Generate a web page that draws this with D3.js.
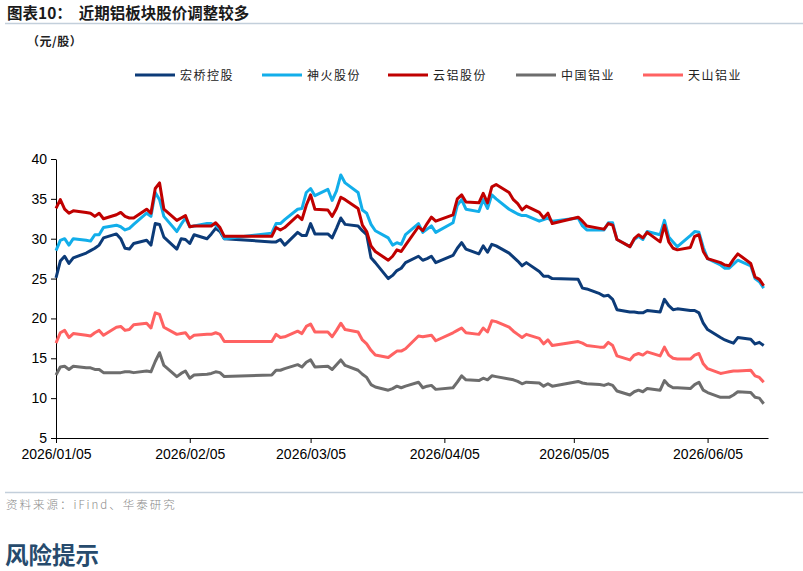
<!DOCTYPE html>
<html>
<head>
<meta charset="utf-8">
<script src="https://cdn.jsdelivr.net/npm/d3@7"></script>
<style>
  body { margin: 0; background: #fff; }
  svg { display: block; }
  .cjk { font-family: "Noto Sans CJK SC", sans-serif; }
  .axis text { font-family: "Liberation Sans", Arial, sans-serif; font-size: 14px; fill: #000; }
  .axis path, .axis line { stroke: #000; }
</style>
</head>
<body>
<div id="chart"></div>
<script>
// trading days: weekdays 2026/01/05 - 2026/06/18 minus exchange holidays
const startDay = "2026-01-05";
const endDay = "2026-06-18";
const holidays = ["2026-02-16", "2026-02-17", "2026-02-18", "2026-02-19", "2026-02-20",
  "2026-02-23", "2026-04-06", "2026-05-01", "2026-05-04", "2026-05-05"];

const seriesNames = ["宏桥控股", "神火股份", "云铝股份", "中国铝业", "天山铝业"];
const seriesColors = ["#0c3b78", "#12aeea", "#c00000", "#6d6d6d", "#ff6262"];

const hongqiao = [
  25.1, 27.2, 27.8, 26.9, 27.6, 28.2, 28.5, 28.8, 29.2, 30.1, 30.6, 30.0, 28.8, 28.7, 29.4, 29.8, 29.2, 31.9, 31.8, 30.2,
  28.7, 30.0, 29.9, 29.4, 30.5, 30.0, 30.6, 31.3, 30.9, 30.0, 29.6, 29.6, 29.9, 29.2,
  30.8, 30.4, 30.4, 31.9, 30.6, 30.6, 30.1, 31.3, 32.6, 31.8, 31.6, 31.0, 30.5, 27.6, 27.0, 25.0, 25.4, 26.0, 26.3, 27.0, 27.8, 27.3,
  27.5, 27.8, 27.0, 27.9, 28.8, 29.5, 28.7, 28.1, 29.1, 28.3, 29.3, 29.1, 28.2, 27.7, 27.2, 26.6, 27.0, 25.9, 25.3, 25.3, 25.0,
  24.9, 23.8, 23.7, 23.1, 22.8, 22.9, 22.4, 21.1, 20.8, 20.8, 20.7, 20.7, 21.0, 20.8, 22.4, 21.6, 21.1, 21.2,
  21.0, 21.0, 20.7, 19.4, 18.6, 17.6, 17.3, 17.1, 16.9, 17.6, 17.4, 16.8, 17.0, 16.6
];
const shenhuo = [
  28.5, 29.8, 30.0, 29.2, 30.0, 29.8, 29.7, 30.5, 30.5, 31.4, 31.7, 31.5, 31.1, 31.3, 31.8, 33.2, 32.8, 35.8, 34.9, 32.8,
  30.9, 31.8, 32.6, 31.5, 31.6, 31.9, 31.9, 31.7, 31.2, 30.0, 30.7, 31.9, 31.9, 32.4,
  33.7, 33.8, 35.8, 36.3, 35.4, 36.2, 34.8, 36.0, 38.0, 37.0, 35.8, 33.6, 33.2, 31.8, 31.0, 30.1, 29.2, 29.5, 29.3, 30.5, 31.9, 30.8,
  31.2, 31.6, 30.8, 32.0, 34.2, 34.9, 33.7, 33.4, 34.9, 33.8, 35.5, 35.0, 33.7, 33.4, 33.1, 32.9, 32.9, 32.2, 32.4, 32.6, 32.2,
  32.6, 31.6, 31.1, 31.1, 31.1, 32.0, 32.0, 29.9, 29.0, 29.9, 30.3, 29.9, 30.9, 30.5, 32.3, 30.2, 29.6, 29.0,
  30.4, 30.9, 30.8, 28.9, 27.5, 26.7, 26.3, 26.3, 26.8, 27.3, 26.6, 25.0, 24.6, 23.8
];
const yunlv = [
  33.8, 34.9, 33.7, 33.2, 33.5, 33.3, 33.2, 32.8, 33.2, 32.5, 33.0, 33.3, 32.8, 32.6, 32.6, 33.7, 33.2, 36.3, 37.0, 33.7,
  32.3, 32.6, 32.9, 31.5, 31.6, 31.6, 31.6, 32.0, 31.4, 30.3, 30.3, 31.4, 31.1, 31.4,
  32.9, 32.4, 34.2, 35.5, 33.7, 33.6, 32.8, 33.8, 35.2, 34.9, 33.8, 31.7, 30.9, 29.1, 28.4, 27.3, 27.8, 28.6, 28.4, 29.2, 31.5, 31.0,
  31.9, 32.7, 32.2, 33.0, 35.0, 35.5, 34.6, 34.5, 35.7, 34.5, 36.5, 36.8, 35.8, 34.9, 34.4, 33.6, 34.1, 33.3, 32.6, 33.2, 31.9,
  32.7, 32.2, 31.6, 31.3, 31.2, 31.9, 31.7, 29.9, 29.0, 30.0, 30.5, 30.1, 30.8, 29.6, 31.7, 29.6, 28.8, 28.6,
  28.9, 30.3, 30.5, 28.4, 27.5, 27.0, 26.7, 26.6, 27.4, 28.1, 26.9, 25.2, 24.9, 24.1
];
const zhonglv = [
  12.9, 13.9, 14.0, 13.6, 14.0, 13.8, 13.8, 13.6, 13.6, 13.2, 13.2, 13.2, 13.3, 13.3, 13.2, 13.4, 13.3, 14.6, 15.7, 14.1,
  12.7, 13.1, 13.4, 12.5, 12.9, 13.0, 13.1, 13.3, 13.2, 12.7, 12.9, 13.5, 13.5, 13.7,
  14.2, 13.9, 14.5, 14.8, 13.9, 14.0, 13.6, 14.2, 14.8, 14.1, 13.5, 13.0, 12.6, 11.7, 11.4, 11.0, 11.2, 11.5, 11.3, 11.5, 12.0, 11.3,
  11.5, 11.6, 11.1, 11.3, 12.0, 12.8, 12.3, 12.2, 12.5, 12.3, 12.8, 12.7, 12.4, 12.3, 12.1, 11.8, 12.0, 11.9, 11.5, 11.8, 11.5,
  12.1, 11.9, 11.8, 11.7, 11.6, 11.8, 11.6, 10.9, 10.4, 10.8, 11.0, 10.8, 11.2, 11.0, 12.2, 11.6, 11.3, 11.3,
  11.2, 11.7, 12.0, 11.0, 10.7, 10.1, 10.1, 10.1, 10.4, 10.8, 10.7, 10.1, 10.0, 9.3
];
const tianshan = [
  16.9, 18.2, 18.5, 17.6, 18.1, 17.9, 17.8, 18.2, 18.5, 17.9, 18.9, 19.0, 18.5, 18.6, 19.2, 19.4, 18.8, 20.7, 20.5, 18.9,
  18.0, 18.1, 18.2, 17.5, 17.9, 18.0, 18.0, 18.2, 18.0, 17.1, 17.1, 18.0, 17.6, 17.7,
  18.4, 18.1, 19.0, 19.3, 18.3, 18.3, 17.7, 18.5, 19.4, 18.6, 18.3, 17.3, 16.8, 16.0, 15.4, 15.1, 15.5, 15.9, 15.9, 16.2, 17.8, 17.7,
  17.8, 17.9, 17.2, 18.2, 18.5, 18.8, 18.2, 18.0, 18.8, 18.3, 19.7, 19.6, 18.9, 18.4, 18.0, 17.6, 18.0, 17.5, 16.8, 17.3, 16.6,
  17.1, 16.9, 16.6, 16.4, 16.4, 17.0, 16.6, 15.3, 14.8, 15.4, 15.6, 15.4, 15.8, 15.3, 16.4, 15.4, 15.0, 14.9,
  14.9, 15.4, 15.6, 14.3, 13.7, 13.1, 13.2, 13.3, 13.4, 13.4, 13.5, 12.8, 12.6, 12.0
];

const yTicks = [5, 10, 15, 20, 25, 30, 35, 40];
const xTickLabels = ["2026/01/05", "2026/02/05", "2026/03/05", "2026/04/05", "2026/05/05", "2026/06/05"];

const parseDay = d3.timeParse("%Y-%m-%d");
const parseTick = d3.timeParse("%Y/%m/%d");
const fmtDay = d3.timeFormat("%Y-%m-%d");

const days = d3.timeDay.range(parseDay(startDay), d3.timeDay.offset(parseDay(endDay), 1))
  .filter(d => d.getDay() !== 0 && d.getDay() !== 6 && !holidays.includes(fmtDay(d)));

const allSeries = [hongqiao, shenhuo, yunlv, zhonglv, tianshan];

const width = 803, height = 571;
const svg = d3.select("#chart").append("svg")
  .attr("width", width)
  .attr("height", height);

// header
svg.append("text")
  .attr("class", "cjk")
  .attr("x", 7).attr("y", 19)
  .attr("font-size", 15.5).attr("font-weight", "bold").attr("fill", "#1a1a1a")
  .attr("xml:space", "preserve")
  .text("图表10：  近期铝板块股价调整较多");

svg.append("line")
  .attr("x1", 5).attr("x2", width).attr("y1", 23.5).attr("y2", 23.5)
  .attr("stroke", "#c3cfdb").attr("stroke-width", 1.5);

svg.append("text")
  .attr("class", "cjk")
  .attr("x", 27).attr("y", 46)
  .attr("font-size", 12).attr("font-weight", "bold").attr("letter-spacing", 0.5).attr("fill", "#222")
  .text("（元/股）");

// scales
const x = d3.scaleTime()
  .domain([parseDay(startDay), d3.timeDay.offset(parseDay(endDay), 1)])
  .range([56, 768]);

const y = d3.scaleLinear()
  .domain([5, 40])
  .range([438, 159]);

// axes
svg.append("g")
  .attr("class", "axis")
  .attr("transform", "translate(0,438)")
  .call(d3.axisBottom(x)
    .tickValues(xTickLabels.map(parseTick))
    .tickFormat(d3.timeFormat("%Y/%m/%d"))
    .tickSizeInner(5).tickSizeOuter(0).tickPadding(6));

svg.append("g")
  .attr("class", "axis")
  .attr("transform", "translate(56,0)")
  .call(d3.axisLeft(y)
    .tickValues(yTicks)
    .tickSizeInner(5).tickSizeOuter(0).tickPadding(4));

// lines
const line = d3.line()
  .x((d, i) => x(days[i]))
  .y(d => y(d));

svg.append("g")
  .attr("fill", "none")
  .attr("stroke-width", 3)
  .attr("stroke-linejoin", "round")
  .selectAll("path")
  .data(allSeries)
  .join("path")
    .attr("stroke", (d, i) => seriesColors[i])
    .attr("d", line);

// legend
const legendX = [135, 262, 388, 516, 643];
const legend = svg.append("g").attr("class", "cjk");
seriesNames.forEach((name, i) => {
  legend.append("line")
    .attr("x1", legendX[i]).attr("x2", legendX[i] + 40)
    .attr("y1", 75).attr("y2", 75)
    .attr("stroke", seriesColors[i]).attr("stroke-width", 3);
  legend.append("text")
    .attr("x", legendX[i] + 45).attr("y", 79.5)
    .attr("font-size", 12).attr("letter-spacing", 1.5).attr("fill", "#222")
    .text(name);
});

// footer
svg.append("line")
  .attr("x1", 5).attr("x2", width).attr("y1", 492.5).attr("y2", 492.5)
  .attr("stroke", "#c3cfdb").attr("stroke-width", 1.5);

svg.append("text")
  .attr("class", "cjk")
  .attr("x", 6).attr("y", 509)
  .attr("font-size", 11.5).attr("font-weight", 300).attr("letter-spacing", 2).attr("fill", "#8a8a8a")
  .text("资料来源：iFind、华泰研究");

svg.append("text")
  .attr("class", "cjk")
  .attr("x", 5).attr("y", 564)
  .attr("font-size", 23.5).attr("font-weight", "bold").attr("fill", "#274b6d")
  .text("风险提示");
</script>
</body>
</html>
